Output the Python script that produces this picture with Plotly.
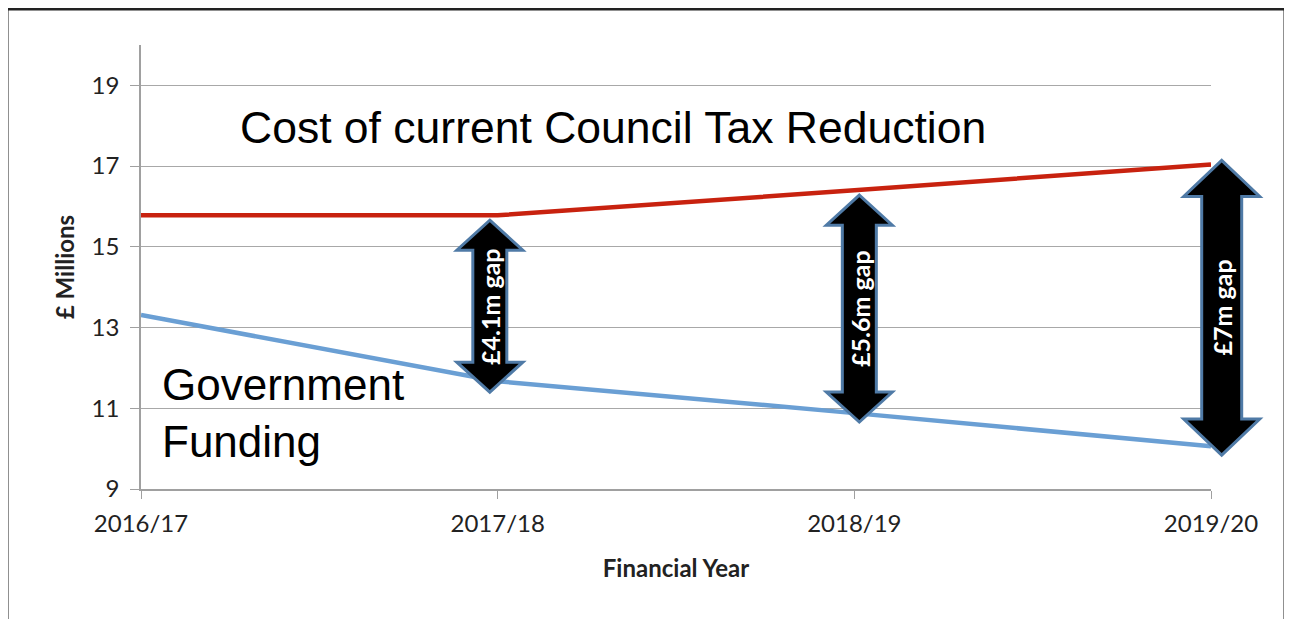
import plotly.graph_objects as go

# ---------------- data ----------------
years = ["2016/17", "2017/18", "2018/19", "2019/20"]
ctr_cost = [15.78, 15.78, 16.4, 17.04]          # Cost of current Council Tax Reduction
gov_funding = [13.31, 11.67, 10.88, 10.06]      # Government Funding
gap_labels = ["£4.1m gap", "£5.6m gap", "£7m gap"]
gap_x = [0.978, 2.014, 3.03]                    # arrow positions (category units)
gap_top = [15.66, 16.28, 17.14]
gap_bottom = [11.40, 10.66, 9.84]
y_ticks = [9, 11, 13, 15, 17, 19]

# ---------------- layout constants ----------------
W, H = 1292, 619
OFF = 8  # page body margin offset
ML, MR, MT = 141 - OFF, 81 + OFF, 45 - OFF
PW = W - ML - MR
PH = 444
MB = H - MT - PH
YMIN, YMAX = 9, 20
XMIN, XMAX = 0, len(years) - 1

def px_x(v):
    return (v - XMIN) / (XMAX - XMIN)

def py_y(v):
    return (v - YMIN) / (YMAX - YMIN)

# screen pixel -> paper
def sx(p):
    return (p - OFF - ML) / PW

def sy(p):
    return (MT + PH - (p - OFF)) / PH

xs = list(range(len(years)))

fig = go.Figure()
fig.add_trace(go.Scatter(x=xs, y=ctr_cost, mode="lines",
                         line=dict(color="#c8220f", width=4.5),
                         hoverinfo="skip", showlegend=False))
fig.add_trace(go.Scatter(x=xs, y=gov_funding, mode="lines",
                         line=dict(color="#6a9fd4", width=4.5),
                         hoverinfo="skip", showlegend=False))

shapes = []
annotations = []
arrow_sizes = [(33, 17, 30), (33, 17, 30), (38, 20, 36)]  # head half-width, shaft half-width, head height (px)
for lab, gx, top, bot, (hw, sw, hh) in zip(gap_labels, gap_x, gap_top, gap_bottom, arrow_sizes):
    cx = px_x(gx)
    ty = py_y(top)
    by = py_y(bot)
    HW, SW, HH = hw / PW, sw / PW, hh / PH
    pts = [
        (cx, ty), (cx + HW, ty - HH), (cx + SW, ty - HH), (cx + SW, by + HH),
        (cx + HW, by + HH), (cx, by), (cx - HW, by + HH), (cx - SW, by + HH),
        (cx - SW, ty - HH), (cx - HW, ty - HH)
    ]
    path = "M " + " L ".join(f"{x:.5f},{y:.5f}" for x, y in pts) + " Z"
    shapes.append(dict(type="path", xref="paper", yref="paper", path=path,
                       fillcolor="black", line=dict(color="#4f7aa6", width=3),
                       layer="above"))
    annotations.append(dict(xref="paper", yref="paper", x=cx, y=(ty + by) / 2,
                            text=f"<b>{lab}</b>", textangle=-90, showarrow=False,
                            font=dict(family="Lato, 'Open Sans', sans-serif", size=25, color="white"),
                            xanchor="center", yanchor="middle"))

# outer frame
shapes.append(dict(type="rect", xref="paper", yref="paper",
                   x0=sx(7), x1=sx(1285), y0=sy(700), y1=sy(9),
                   line=dict(color="#222222", width=3), fillcolor="rgba(0,0,0,0)",
                   layer="below"))

annotations.append(dict(xref="paper", yref="paper", x=sx(238), y=sy(127),
                        text="Cost of current Council Tax Reduction", showarrow=False,
                        xanchor="left", yanchor="middle",
                        font=dict(family="Liberation Sans, Arial, sans-serif", size=44.5, color="black")))
annotations.append(dict(xref="paper", yref="paper", x=sx(160), y=sy(413),
                        text="Government<br>Funding", showarrow=False, align="left",
                        xanchor="left", yanchor="middle",
                        font=dict(family="Liberation Sans, Arial, sans-serif", size=44, color="black")))

fig.update_layout(
    width=W, height=H,
    margin=dict(l=ML, r=MR, t=MT, b=MB, pad=0),
    paper_bgcolor="white", plot_bgcolor="white",
    showlegend=False,
    shapes=shapes, annotations=annotations,
    font=dict(family="Lato, 'Open Sans', sans-serif", color="#222222"),
    xaxis=dict(range=[XMIN, XMAX], tickvals=xs, ticktext=years,
               showgrid=False, zeroline=False, showline=True,
               linecolor="#a0a0a0", linewidth=1.5,
               ticks="outside", ticklen=8, tickcolor="#a0a0a0",
               ticklabelstandoff=4,
               tickfont=dict(size=24, color="#222222"),
               title=dict(text="<b>Financial Year</b>", font=dict(size=24, color="#222222"), standoff=25)),
    yaxis=dict(range=[YMIN, YMAX], tickvals=y_ticks,
               showgrid=True, gridcolor="#a8a8a8", gridwidth=1,
               zeroline=False, showline=True, linecolor="#a0a0a0", linewidth=1.5,
               ticks="outside", ticklen=9, tickcolor="#a0a0a0",
               ticklabelstandoff=6,
               tickfont=dict(size=24, color="#222222"),
               title=dict(text="<b>£ Millions</b>", font=dict(size=24, color="#222222"), standoff=10)),
)

fig.write_html("out.html")
